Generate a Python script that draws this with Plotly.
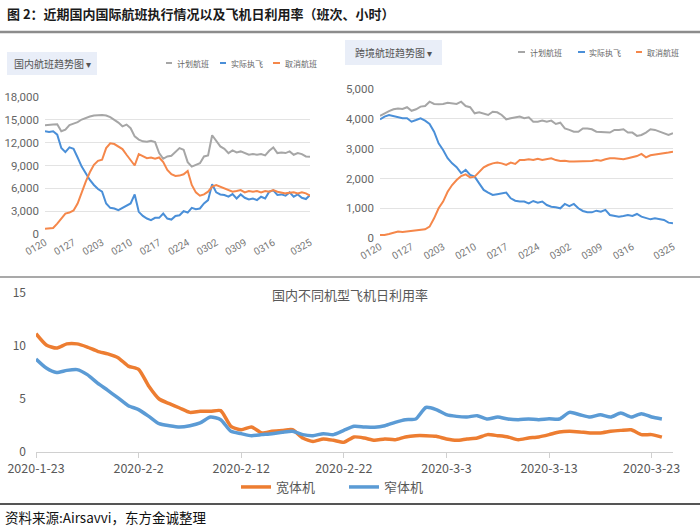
import plotly.graph_objects as go

W, H = 700, 528
def px(x): return x / W
def py(y): return 1 - y / H

# ---------- top panels: dates 0120..0325 ----------
top_dates = ["0120","0121","0122","0123","0124","0125","0126","0127","0128","0129","0130","0131",
             "0201","0202","0203","0204","0205","0206","0207","0208","0209","0210","0211","0212",
             "0213","0214","0215","0216","0217","0218","0219","0220","0221","0222","0223","0224",
             "0225","0226","0227","0228","0229","0301","0302","0303","0304","0305","0306","0307",
             "0308","0309","0310","0311","0312","0313","0314","0315","0316","0317","0318","0319",
             "0320","0321","0322","0323","0324","0325"]
top_ticks = ["0120","0127","0203","0210","0217","0224","0302","0309","0316","0325"]

dom_planned = [14290,14290,14380,14420,13500,13700,14300,14500,14700,15040,15260,15430,15570,15650,
               15650,15570,15350,15000,14640,14150,14380,13900,12830,12400,12170,12130,12260,12080,
               10630,9880,10190,10280,10850,11290,11070,9440,8860,9080,9300,10190,10320,12970,12170,
               11510,11200,10630,10980,10720,10850,10630,10410,10500,10410,10500,10320,10940,11380,
               10630,10720,10630,10850,10410,10630,10500,10190,10140]
dom_actual = [13490,13400,13490,13050,11290,10760,11380,11200,10050,8860,7980,7100,6440,5910,5560,
              4010,3440,3350,3130,3440,3790,4010,5200,2910,2380,2030,1810,2120,2120,2690,2030,1900,
              2380,2470,3000,2820,3440,3260,3350,4010,4450,6530,5470,5200,5120,4900,5250,4670,5200,
              4760,4540,4670,4450,4900,4670,5560,5730,5120,5200,5030,5470,4900,5200,4760,4590,5120]
dom_cancel = [700,700,790,1370,2030,2690,2820,3090,4010,5560,6880,8110,9080,9610,9750,11290,11910,
              11820,11510,11160,10410,9750,9000,10500,10190,9970,10050,9880,10050,9440,8420,7850,
              7630,7670,7850,8290,6440,5470,5030,5200,5560,6220,6440,6220,6000,5730,5560,5650,5780,
              5470,5650,5560,5650,5470,5650,5560,5780,5560,5470,5340,5420,5470,5340,5470,5340,5030]

int_planned = [4100,4185,4260,4320,4350,4330,4390,4270,4320,4410,4430,4575,4500,4490,4500,4540,
               4520,4500,4575,4430,4390,4185,4220,4185,4130,4240,4220,4130,3985,4020,4050,4075,
               4020,4050,3905,3905,3940,3905,3940,3830,3870,3680,3630,3570,3570,3680,3680,3650,
               3570,3550,3550,3540,3630,3630,3650,3540,3540,3430,3460,3540,3650,3630,3570,3520,
               3460,3520]
int_actual = [3985,4075,4130,4100,4050,4020,4020,3905,3960,4020,3940,3830,3570,3180,2960,2680,2510,
              2380,2180,2290,2120,2065,1840,1620,1530,1450,1475,1505,1530,1340,1260,1230,1230,1170,
              1250,1195,1230,1115,1060,1040,1005,1150,1080,1150,1005,915,870,870,925,890,950,780,
              760,725,750,780,750,815,725,670,635,670,635,615,525,500]
int_cancel = [110,110,145,190,225,210,225,235,255,280,300,390,670,1005,1230,1560,1785,1950,2085,
              2140,2040,2065,2230,2380,2455,2510,2535,2510,2455,2535,2490,2620,2620,2645,2620,2665,
              2620,2645,2680,2620,2590,2600,2570,2570,2570,2570,2570,2590,2620,2600,2645,2680,2680,
              2655,2645,2680,2710,2755,2825,2710,2780,2800,2825,2825,2870,2900]

top_series_names = ["计划航班", "实际执飞", "取消航班"]
top_colors = ["#a6a6a6", "#4a8fd8", "#f5874a"]

# ---------- bottom panel: 2020-1-23 .. 2020-3-24 ----------
util_dates = ["2020-01-23","2020-01-24","2020-01-25","2020-01-26","2020-01-27","2020-01-28",
              "2020-01-29","2020-01-30","2020-01-31","2020-02-01","2020-02-02","2020-02-03",
              "2020-02-04","2020-02-05","2020-02-06","2020-02-07","2020-02-08","2020-02-09",
              "2020-02-10","2020-02-11","2020-02-12","2020-02-13","2020-02-14","2020-02-15",
              "2020-02-16","2020-02-17","2020-02-18","2020-02-19","2020-02-20","2020-02-21",
              "2020-02-22","2020-02-23","2020-02-24","2020-02-25","2020-02-26","2020-02-27",
              "2020-02-28","2020-02-29","2020-03-01","2020-03-02","2020-03-03","2020-03-04",
              "2020-03-05","2020-03-06","2020-03-07","2020-03-08","2020-03-09","2020-03-10",
              "2020-03-11","2020-03-12","2020-03-13","2020-03-14","2020-03-15","2020-03-16",
              "2020-03-17","2020-03-18","2020-03-19","2020-03-20","2020-03-21","2020-03-22",
              "2020-03-23","2020-03-24"]
wide_body = [11.16,10.1,9.8,10.2,10.2,9.9,9.5,9.25,8.9,8.1,7.8,6.2,5.0,4.56,4.15,3.74,3.84,3.84,
             3.9,2.42,2.1,2.36,1.8,1.95,2.04,2.1,1.32,1.0,1.23,1.1,0.91,1.42,1.32,1.1,1.23,1.16,
             1.42,1.54,1.54,1.48,1.23,1.1,1.23,1.32,1.64,1.54,1.42,1.16,1.32,1.42,1.64,1.89,1.95,
             1.89,1.8,1.8,1.95,2.04,2.1,1.64,1.64,1.4]
narrow_body = [8.77,7.92,7.5,7.7,7.77,7.3,6.5,5.82,5.1,4.37,4.0,3.36,2.67,2.48,2.36,2.48,2.74,3.3,
               3.05,1.95,1.73,1.54,1.64,1.73,1.86,1.95,1.64,1.54,1.73,1.64,2.04,2.42,2.36,2.33,
               2.48,2.8,3.05,3.11,4.2,4.0,3.52,3.36,3.3,3.43,3.11,3.3,3.11,3.05,3.11,3.05,3.14,
               3.11,3.74,3.52,3.3,3.52,3.3,3.68,3.3,3.62,3.3,3.12]
util_tick_vals = ["2020-01-23","2020-02-02","2020-02-12","2020-02-22","2020-03-03","2020-03-13","2020-03-23"]
util_tick_text = ["2020-1-23","2020-2-2","2020-2-12","2020-2-22","2020-3-3","2020-3-13","2020-3-23"]

CJK = "Noto Sans CJK SC"
fig = go.Figure()

for vals, name, col in zip([dom_planned, dom_actual, dom_cancel], top_series_names, top_colors):
    fig.add_trace(go.Scatter(x=top_dates, y=vals, mode="lines", name=name, showlegend=False,
                             line=dict(color=col, width=2), xaxis="x", yaxis="y"))
for vals, name, col in zip([int_planned, int_actual, int_cancel], top_series_names, top_colors):
    fig.add_trace(go.Scatter(x=top_dates, y=vals, mode="lines", name=name, showlegend=False,
                             line=dict(color=col, width=2), xaxis="x2", yaxis="y2"))

fig.add_trace(go.Scatter(x=util_dates, y=wide_body, mode="lines", name="宽体机",
                         line=dict(color="#ED7D31", width=3.5, shape="spline", smoothing=0.6),
                         xaxis="x3", yaxis="y3"))
fig.add_trace(go.Scatter(x=util_dates, y=narrow_body, mode="lines", name="窄体机",
                         line=dict(color="#5B9BD5", width=3.5, shape="spline", smoothing=0.6),
                         xaxis="x3", yaxis="y3"))

top_tickfont = dict(family="Roboto", size=10, color="#777")
top_yfont = dict(family="Roboto", size=11.5, color="#666")

fig.update_layout(
    width=W, height=H, margin=dict(l=0, r=0, t=0, b=0, autoexpand=False),
    paper_bgcolor="white", plot_bgcolor="white",
    font=dict(family=CJK),
    xaxis=dict(domain=[px(45), px(310)], anchor="y", type="category", range=[0, 65], tickmode="array",
               tickvals=top_ticks, ticktext=top_ticks, tickangle=-30, tickfont=top_tickfont,
               showgrid=False, showline=False, zeroline=False, ticks="", automargin=False),
    yaxis=dict(domain=[py(234), py(97)], anchor="x", range=[0, 18000], tickvals=list(range(0, 18001, 3000)),
               tickformat=",", tickfont=top_yfont, gridcolor="#e3e3e3", gridwidth=1, ticklabelstandoff=5,
               zeroline=False, showline=False, ticks="", automargin=False),
    xaxis2=dict(domain=[px(380), px(673)], anchor="y2", type="category", range=[0, 65], tickmode="array",
                tickvals=top_ticks, ticktext=top_ticks, tickangle=-30, tickfont=top_tickfont,
                showgrid=False, showline=False, zeroline=False, ticks="", automargin=False),
    yaxis2=dict(domain=[py(238.3), py(89)], anchor="x2", range=[0, 5000], tickvals=list(range(0, 5001, 1000)),
                tickformat=",", tickfont=top_yfont, gridcolor="#e3e3e3", gridwidth=1, ticklabelstandoff=5,
                zeroline=False, showline=False, ticks="", automargin=False),
    xaxis3=dict(domain=[px(36), px(673)], anchor="y3", type="date",
                range=["2020-01-23", "2020-03-25 02:00"], tickmode="array",
                tickvals=util_tick_vals, ticktext=util_tick_text,
                tickfont=dict(family=CJK, size=12.5, color="#595959"),
                showgrid=False, showline=True, linecolor="#d0d0d0", linewidth=1,
                ticks="outside", ticklen=5, tickcolor="#d0d0d0", zeroline=False, automargin=False),
    yaxis3=dict(domain=[py(452), py(293)], anchor="x3", range=[0, 15], tickvals=[0, 5, 10, 15],
                tickfont=dict(family=CJK, size=12, color="#595959"), ticklabelstandoff=9,
                showgrid=False, zeroline=False, showline=False, ticks="", automargin=False),
    showlegend=True,
    legend=dict(orientation="h", x=px(344), xanchor="center", y=py(487), yanchor="middle",
                font=dict(family=CJK, size=13, color="#595959"), bgcolor="rgba(0,0,0,0)",
                itemwidth=30, entrywidth=63, tracegroupgap=0),
)

shapes = []
annots = []
# header
annots.append(dict(text="<b>图 2：近期国内国际航班执行情况以及飞机日利用率（班次、小时）</b>",
                   x=px(5), y=py(13), xref="paper", yref="paper", xanchor="left", yanchor="middle",
                   showarrow=False, font=dict(family=CJK, size=13, color="#1a1a1a")))
shapes.append(dict(type="line", xref="paper", yref="paper", x0=0, x1=1, y0=py(32), y1=py(32),
                   line=dict(color="#8c8c8c", width=2.5)))
shapes.append(dict(type="line", xref="paper", yref="paper", x0=0, x1=1, y0=py(277), y1=py(277),
                   line=dict(color="#555", width=1.2)))
shapes.append(dict(type="line", xref="paper", yref="paper", x0=0, x1=1, y0=py(504), y1=py(504),
                   line=dict(color="#555", width=2)))
annots.append(dict(text="资料来源:Airsavvi，东方金诚整理", x=px(3), y=py(517), xref="paper", yref="paper",
                   xanchor="left", yanchor="middle", showarrow=False,
                   font=dict(family=CJK, size=13.5, color="#111")))
annots.append(dict(text="国内不同机型飞机日利用率", x=px(350), y=py(294), xref="paper", yref="paper",
                   xanchor="center", yanchor="middle", showarrow=False,
                   font=dict(family=CJK, size=13, color="#595959")))

# dropdown boxes
for (x0, x1, y0, y1, label) in [(7, 97, 52, 75, "国内航班趋势图 ▾"), (345, 442, 40, 65, "跨境航班趋势图 ▾")]:
    shapes.append(dict(type="rect", xref="paper", yref="paper", x0=px(x0), x1=px(x1),
                       y0=py(y1), y1=py(y0), fillcolor="#e9eef8", line=dict(width=0), layer="below"))
    annots.append(dict(text=label, x=px((x0 + x1) / 2), y=py((y0 + y1) / 2), xref="paper", yref="paper",
                       xanchor="center", yanchor="middle", showarrow=False,
                       font=dict(family=CJK, size=10, color="#555")))

# small legends for top panels
def top_legend(items, yc):
    for (dx0, dx1, tx, name, col) in items:
        shapes.append(dict(type="line", xref="paper", yref="paper", x0=px(dx0), x1=px(dx1),
                           y0=py(yc), y1=py(yc), line=dict(color=col, width=2)))
        annots.append(dict(text=name, x=px(tx), y=py(yc), xref="paper", yref="paper",
                           xanchor="left", yanchor="middle", showarrow=False,
                           font=dict(family=CJK, size=8, color="#666")))

top_legend([(166, 172, 175, top_series_names[0], top_colors[0]),
            (220, 226, 229, top_series_names[1], top_colors[1]),
            (273, 280, 283, top_series_names[2], top_colors[2])], 63)
top_legend([(518, 525, 528, top_series_names[0], top_colors[0]),
            (578, 585, 587, top_series_names[1], top_colors[1]),
            (636, 642, 645, top_series_names[2], top_colors[2])], 52)

fig.update_layout(shapes=shapes, annotations=annots)
fig.write_html("out.html", config={"displayModeBar": False},
               post_script="document.body.style.margin='0';document.body.style.padding='0';")
